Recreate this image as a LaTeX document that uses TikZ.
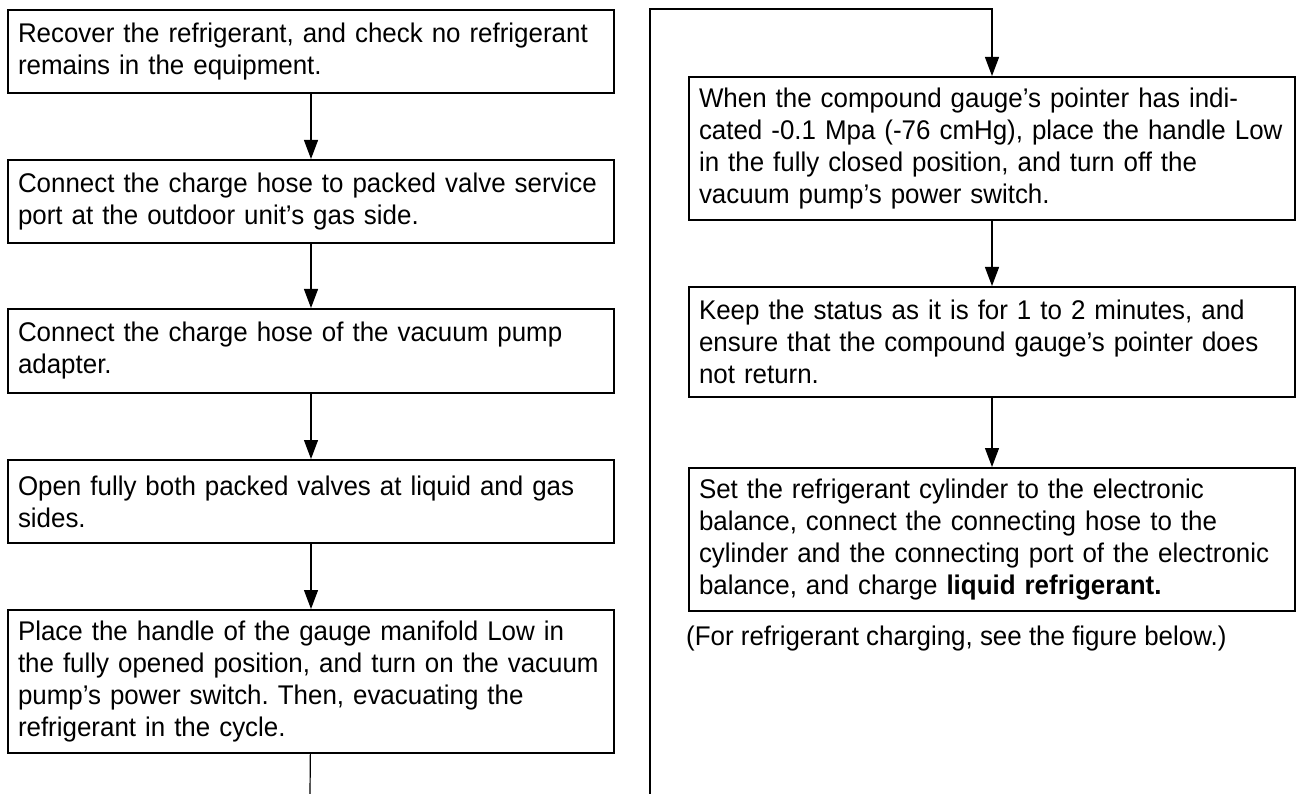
\documentclass[tikz,border=0pt]{standalone}
\usepackage{fontspec}
\setmainfont{Liberation Sans}[FakeStretch=0.96]
\usetikzlibrary{arrows.meta}
\frenchspacing
\begin{document}
\begin{tikzpicture}[x=1pt,y=-1pt,
    stepbox/.style={draw,line width=2pt,anchor=north west,text width=586pt,align=left,
        inner xsep=10pt,inner ysep=0pt,font=\fontsize{27}{32}\selectfont},
    flow/.style={line width=1.2pt,-{Triangle[length=19pt,width=14pt]}}]
    \useasboundingbox (0,0) rectangle (1296,794);
    % left column
    \node[stepbox,minimum height=83pt] (l1) at (7,9) {Recover the refrigerant, and check no refrigerant\\ remains in the equipment.};
    \node[stepbox,minimum height=83pt] (l2) at (7,159) {Connect the charge hose to packed valve service\\ port at the outdoor unit's gas side.};
    \node[stepbox,minimum height=84pt] (l3) at (7,308) {Connect the charge hose of the vacuum pump\\ adapter.};
    \node[stepbox,minimum height=83pt] (l4) at (7,459) {Open fully both packed valves at liquid and gas\\ sides.};
    \node[stepbox,minimum height=143pt] (l5) at (7,609) {Place the handle of the gauge manifold Low in\\ the fully opened position, and turn on the vacuum\\ pump's power switch. Then, evacuating the\\ refrigerant in the cycle.};
    % right column
    \node[stepbox,minimum height=143pt] (r1) at (688,76) {When the compound gauge's pointer has indi-\\ cated -0.1 Mpa (-76 cmHg), place the handle Low\\ in the fully closed position, and turn off the\\ vacuum pump's power switch.};
    \node[stepbox,minimum height=110pt] (r2) at (688,286) {Keep the status as it is for 1 to 2 minutes, and\\ ensure that the compound gauge's pointer does\\ not return.};
    \node[stepbox,minimum height=143pt] (r3) at (688,467) {Set the refrigerant cylinder to the electronic\\ balance, connect the connecting hose to the\\ cylinder and the connecting port of the electronic\\ balance, and charge \textbf{liquid refrigerant.}};
    \node[anchor=base west,inner sep=0pt,font=\fontsize{27}{32}\selectfont] (note) at (686,645) {(For refrigerant charging, see the figure below.)};
    % connectors
    \draw[flow] (l1) -- (l2);
    \draw[flow] (l2) -- (l3);
    \draw[flow] (l3) -- (l4);
    \draw[flow] (l4) -- (l5);
    \coordinate (outL) at (310,794);
    \draw[line width=1.2pt] (l5) -- (outL);
    \coordinate (loopB) at (650,794);
    \coordinate (loopT) at (650,9);
    \draw[flow] (loopB) -- (loopT) -| (r1);
    \draw[flow] (r1) -- (r2);
    \draw[flow] (r2) -- (r3);
\end{tikzpicture}
\end{document}
